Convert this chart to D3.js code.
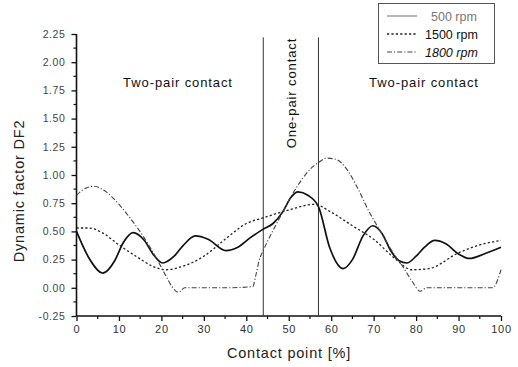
<!DOCTYPE html>
<html><head><meta charset="utf-8">
<script src="https://cdn.jsdelivr.net/npm/d3@7"></script>
<style>body{margin:0;background:#fff}svg{display:block}</style>
</head><body>
<svg id="c" width="518" height="367"></svg>
<script>
// ---- data ----
const xTicks = [0,10,20,30,40,50,60,70,80,90,100];
const yTicks = [-0.25,0,0.25,0.5,0.75,1.0,1.25,1.5,1.75,2.0,2.25];
const yTickLabels = ["-0.25","0.00","0.25","0.50","0.75","1.00","1.25","1.50","1.75","2.00","2.25"];
const seriesNames = ["500 rpm","1500 rpm","1800 rpm"];

const x500 = [0,3,6.2,9,11,13.3,16,18,20.3,23,25,28,31,35.2,38,40.8,44,46.3,48.7,50.5,52.2,54.5,57,59.7,62.8,65,67.5,69.8,72,74,76,77.8,80,82,84.4,87,90,92.6,96,100];
const y500 = [0.50,0.26,0.13,0.24,0.40,0.49,0.42,0.30,0.22,0.28,0.37,0.46,0.43,0.33,0.36,0.44,0.52,0.57,0.68,0.80,0.85,0.82,0.72,0.35,0.17,0.25,0.46,0.55,0.48,0.33,0.24,0.22,0.28,0.36,0.42,0.39,0.30,0.26,0.30,0.36];

const x1500 = [0,3,6,10,14,18,21,25,30,35,40,44,50,56,60,65,70,75,79,83,90,95,100];
const y1500 = [0.53,0.53,0.49,0.38,0.28,0.19,0.16,0.19,0.28,0.43,0.57,0.62,0.69,0.74,0.67,0.55,0.43,0.26,0.16,0.17,0.31,0.38,0.42];

const x1800 = [0,2,4,7,10,13,16,19,21,22.5,24,25.5,30,35,41.5,42.3,43,44,48,52,55,57,59,61,63.7,66,69,71.3,74.6,77,79,81,82.5,90,98,100];
const y1800 = [0.82,0.88,0.90,0.85,0.74,0.60,0.44,0.25,0.11,0.01,-0.04,0.0,0.0,0.0,0.01,0.12,0.24,0.33,0.63,0.90,1.05,1.11,1.15,1.14,1.05,0.90,0.67,0.52,0.31,0.18,0.06,-0.03,0.0,0.0,0.0,0.16];

const vLines = [44,57];

// ---- layout ----
const svg = d3.select("#c");
const X = d3.scaleLinear().domain([0,100]).range([76.5,501]);
const Y = d3.scaleLinear().domain([-0.25,2.25]).range([316,34]);
const font = "'Liberation Sans', Arial, sans-serif";

// axes
const xAxis = d3.axisBottom(X).tickValues(xTicks).tickSize(5).tickPadding(4).tickFormat(d3.format("d"));
const gx = svg.append("g").attr("transform",`translate(0,${Y(-0.25)})`).call(xAxis);
gx.select(".domain").attr("d",`M${X(0)},0H${X(100)}`).attr("stroke","#111").attr("stroke-width",1.6);
gx.selectAll(".tick line").attr("stroke","#111").attr("stroke-width",1.3);
gx.selectAll(".tick text").attr("font-family",font).attr("font-size",11).attr("fill","#333").attr("letter-spacing",0.7);
const xMinor = d3.range(5,100,10);
gx.selectAll(".mx").data(xMinor).enter().append("line")
  .attr("x1",d=>X(d)).attr("x2",d=>X(d)).attr("y1",0).attr("y2",3).attr("stroke","#111").attr("stroke-width",1.2);

const yAxis = d3.axisLeft(Y).tickValues(yTicks).tickSize(5).tickPadding(6).tickFormat((d,i)=>yTickLabels[i]);
const gy = svg.append("g").attr("transform",`translate(${X(0)},0)`).call(yAxis);
gy.select(".domain").attr("d",`M0,${Y(-0.25)}V${Y(2.25)}`).attr("stroke","#111").attr("stroke-width",1.6);
gy.selectAll(".tick line").attr("stroke","#111").attr("stroke-width",1.3);
gy.selectAll(".tick text").attr("font-family",font).attr("font-size",10.5).attr("fill","#444").attr("letter-spacing",0.6);
const yMinor = d3.range(-0.125,2.25,0.25);
gy.selectAll(".my").data(yMinor).enter().append("line")
  .attr("y1",d=>Y(d)).attr("y2",d=>Y(d)).attr("x1",0).attr("x2",-3).attr("stroke","#111").attr("stroke-width",1.2);

// vertical region lines
svg.selectAll(".vl").data(vLines).enter().append("line")
  .attr("x1",d=>X(d)).attr("x2",d=>X(d)).attr("y1",Y(2.22)).attr("y2",Y(-0.25))
  .attr("stroke","#333").attr("stroke-width",1);

// series
const line = d3.line().curve(d3.curveMonotoneX);
const mk = (xs,ys)=>xs.map((v,i)=>[X(v),Y(ys[i])]);
const styles = [
  {stroke:"#111",w:1.7,dash:null},
  {stroke:"#222",w:1.3,dash:"2.2,2.2"},
  {stroke:"#444",w:1.1,dash:"5,2,1.2,2"}
];
const data = [mk(x500,y500),mk(x1500,y1500),mk(x1800,y1800)];
data.forEach((d,i)=>{
  svg.append("path").attr("d",line(d)).attr("fill","none")
    .attr("stroke",styles[i].stroke).attr("stroke-width",styles[i].w)
    .attr("stroke-dasharray",styles[i].dash);
});

// annotations
svg.append("text").attr("x",178).attr("y",87).attr("text-anchor","middle")
  .attr("font-family",font).attr("font-size",13).attr("letter-spacing",0.9).attr("fill","#111").text("Two-pair contact");
svg.append("text").attr("x",424).attr("y",87).attr("text-anchor","middle")
  .attr("font-family",font).attr("font-size",13).attr("letter-spacing",0.9).attr("fill","#111").text("Two-pair contact");
svg.append("text").attr("transform","translate(296,93) rotate(-90)").attr("text-anchor","middle")
  .attr("font-family",font).attr("font-size",13).attr("letter-spacing",0.9).attr("fill","#111").text("One-pair contact");

// axis titles
svg.append("text").attr("x",289).attr("y",358).attr("text-anchor","middle")
  .attr("font-family",font).attr("font-size",14.5).attr("letter-spacing",0.8).attr("fill","#222").text("Contact point [%]");
svg.append("text").attr("transform","translate(24,191) rotate(-90)").attr("text-anchor","middle")
  .attr("font-family",font).attr("font-size",14.5).attr("letter-spacing",0.8).attr("fill","#222").text("Dynamic factor DF2");

// legend
const lg = svg.append("g").attr("font-family",font);
lg.append("rect").attr("x",378.5).attr("y",3.5).attr("width",116).attr("height",60)
  .attr("fill","#fff").attr("stroke","#444").attr("stroke-width",0.9);
seriesNames.forEach((n,i)=>{
  const yy = 16 + i*18;
  lg.append("line").attr("x1",387).attr("x2",417).attr("y1",yy).attr("y2",yy)
    .attr("stroke",styles[i].stroke).attr("stroke-width",i===0?1:styles[i].w)
    .attr("stroke-dasharray",styles[i].dash).attr("opacity",i===0?0.6:1);
  lg.append("text").attr("x",i===0?431:425).attr("y",yy+4.5).attr("font-size",12.5)
    .attr("font-style",i===2?"italic":"normal")
    .attr("fill",i===0?"#777":"#111").text(n);
});
</script>
</body></html>
